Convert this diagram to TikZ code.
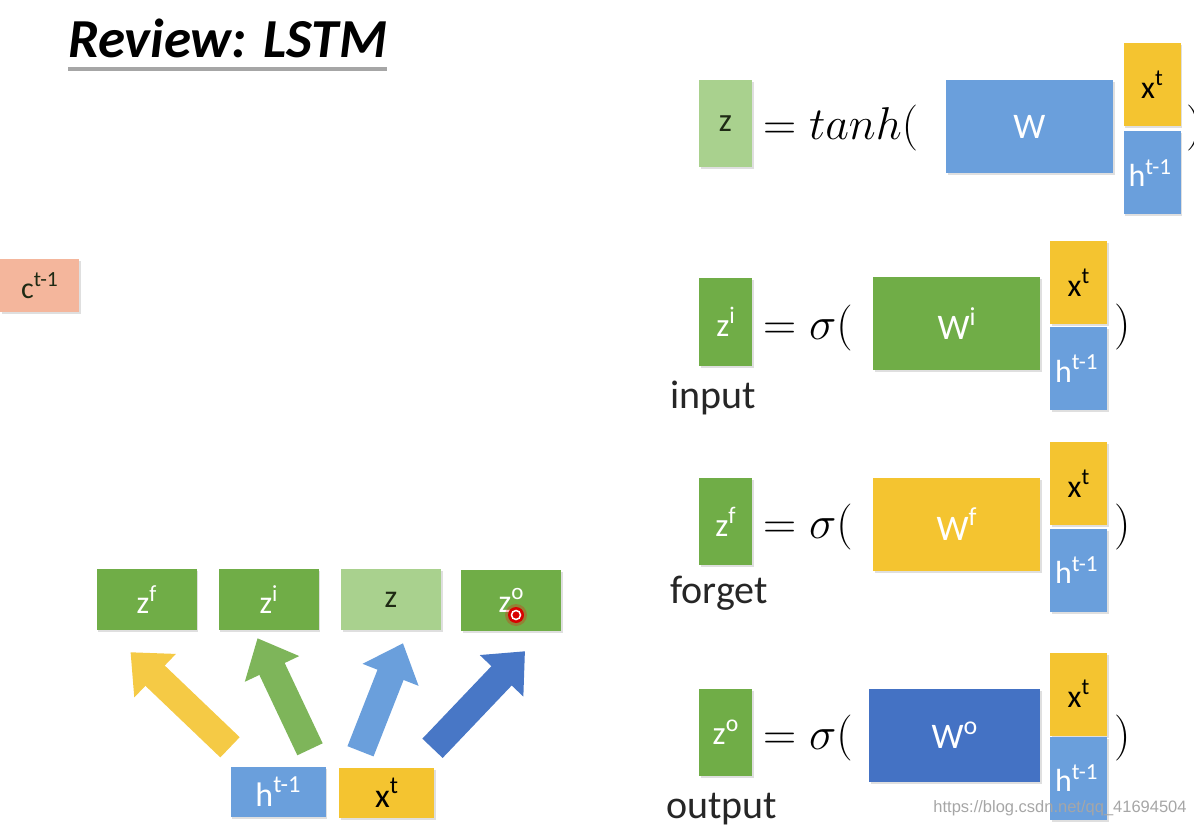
\RequirePackage{fix-cm}
\documentclass[tikz,border=0pt]{standalone}
\usepackage{fontspec}
\setmainfont{Carlito}
\newfontfamily\wmfont{Liberation Sans}
\usepackage{amsmath,amssymb}
\usetikzlibrary{arrows.meta,shadows}
\definecolor{boxgreen}{HTML}{70AD47}
\definecolor{palegreen}{HTML}{A9D18E}
\definecolor{skyblue}{HTML}{6A9FDC}
\definecolor{deepblue}{HTML}{4472C4}
\definecolor{gold}{HTML}{F4C430}
\definecolor{salmon}{HTML}{F4B69C}
\definecolor{darkink}{HTML}{1E2A14}
\newcommand{\spx}[1]{\raisebox{0.4em}{\scalebox{0.72}{#1}}}
\newcommand{\fs}[1]{\fontsize{#1}{#1}\selectfont}

\tikzset{
  cell/.style={inner sep=0pt, text=white, font=\fs{30},
    drop shadow={opacity=0.25, shadow xshift=1.5pt, shadow yshift=-2pt}},
  tall/.style={cell, minimum width=53pt, minimum height=87pt, font=\fs{33}},
  wide/.style={cell, minimum width=167pt, minimum height=93pt, font=\fs{36}},
  vec/.style={cell, minimum width=57pt, minimum height=83pt, font=\fs{32}},
  gate/.style={cell, minimum width=100pt, minimum height=61pt, font=\fs{32}},
  inp/.style={cell, minimum width=95pt, minimum height=50pt, font=\fs{34}},
  eq/.style={anchor=west, inner sep=0pt, font=\fs{46}},
  lbl/.style={anchor=base west, inner sep=0pt, font=\fs{40}, text=black!85},
  fat/.style={line width=28pt, -{Triangle[length=34pt,width=58pt]}}
}

\begin{document}
\begin{tikzpicture}[x=1pt,y=-1pt]
  \useasboundingbox (0,0) rectangle (1194,826);
  % title
  \node[anchor=base west, inner sep=0pt, font=\fs{55}\bfseries\itshape] (title) at (68,58) {Review: LSTM};
  \draw[line width=4pt, black!35] ([yshift=-11pt]title.base west) -- ([yshift=-11pt]title.base east);

  % memory
  \node[cell, fill=salmon, text=darkink, minimum width=79pt, minimum height=53pt] (c) at (39.5,285.5) {c\spx{t-1}};

  % gates below
  \node[gate, fill=boxgreen] (zf) at (146.5,599.5) {z\spx{f}};
  \node[gate, fill=boxgreen] (zi) at (268.5,599.5) {z\spx{i}};
  \node[gate, fill=palegreen, text=darkink] (z) at (391,599.5) {z};
  \node[gate, fill=boxgreen] (zo) at (511,600.5) {z\spx{o}};
  \node[inp, fill=skyblue] (h) at (278,791.5) {h\spx{t-1}};
  \node[inp, fill=gold, text=black] (x) at (386.5,792.5) {x\spx{t}};

  \draw[fat, gold!90!white] ([shift={(-48,-19)}]h.north) -- ([shift={(-16,22)}]zf.south);
  \draw[fat, boxgreen!90!white] ([shift={(32,-17)}]h.north) -- ([shift={(-11,8)}]zi.south);
  \draw[fat, skyblue] ([shift={(-26,-16)}]x.north) -- ([shift={(12,13)}]z.south);
  \draw[fat, deepblue!90!skyblue] ([shift={(46,-19)}]x.north) -- ([shift={(14,20)}]zo.south);

  % pointer
  \fill[red, opacity=0.25] (516,615) circle(11);
  \fill[red!85!black] (516,615) circle(8);
  \draw[white, line width=1.5pt] (516,615) circle(4.5);

  % z = tanh(...)
  \node[tall, fill=palegreen, text=darkink] (zt) at (725.5,124) {z};
  \node[eq] (eqt) at (763,128) {$= tanh($};
  \node[wide, fill=skyblue] (W) at (1029.5,126.5) {W};
  \node[vec, fill=gold, text=black] (xt) at (1152,85) {x\spx{t}};
  \node[vec, fill=skyblue, text width=47pt] (ht) at (1152,173) {h\spx{t-1}};
  \node[eq] (pt) at (1186,128) {$)$};

  % input gate
  \node[tall, fill=boxgreen] (zii) at (725.5,322) {z\spx{i}};
  \node[eq] (eqi) at (763,328) {$= \sigma($};
  \node[wide, fill=boxgreen] (Wi) at (956.5,323.5) {W\spx{i}};
  \node[vec, fill=gold, text=black] (xi) at (1078.5,282.5) {x\spx{t}};
  \node[vec, fill=skyblue, text width=47pt] (hi) at (1078.5,368.5) {h\spx{t-1}};
  \node[eq] (pi) at (1114,327) {$)$};
  \node[lbl] (li) at (670,408) {input};

  % forget gate
  \node[tall, fill=boxgreen] (zff) at (725.5,521.5) {z\spx{f}};
  \node[eq] (eqf) at (763,527) {$= \sigma($};
  \node[wide, fill=gold] (Wf) at (956.5,524) {W\spx{f}};
  \node[vec, fill=gold, text=black] (xf) at (1078.5,483.5) {x\spx{t}};
  \node[vec, fill=skyblue, text width=47pt] (hf) at (1078.5,570) {h\spx{t-1}};
  \node[eq] (pf) at (1114,527) {$)$};
  \node[lbl] (lf) at (670,603) {forget};

  % output gate
  \node[tall, fill=boxgreen] (zoo) at (725.5,732.5) {z\spx{o}};
  \node[eq] (eqo) at (763,738) {$= \sigma($};
  \node[wide, fill=deepblue, minimum width=171pt] (Wo) at (954.5,735.5) {W\spx{o}};
  \node[vec, fill=gold, text=black] (xo) at (1078.5,694) {x\spx{t}};
  \node[vec, fill=skyblue, text width=47pt] (ho) at (1078.5,778) {h\spx{t-1}};
  \node[eq] (po) at (1114,738) {$)$};
  \node[lbl] (lo) at (666,818) {output};

  \node[inner sep=0pt, font=\wmfont\fs{16.5}, text=black!35] (wm) at (1060,808) {https://blog.csdn.net/qq\_41694504};
\end{tikzpicture}
\end{document}
